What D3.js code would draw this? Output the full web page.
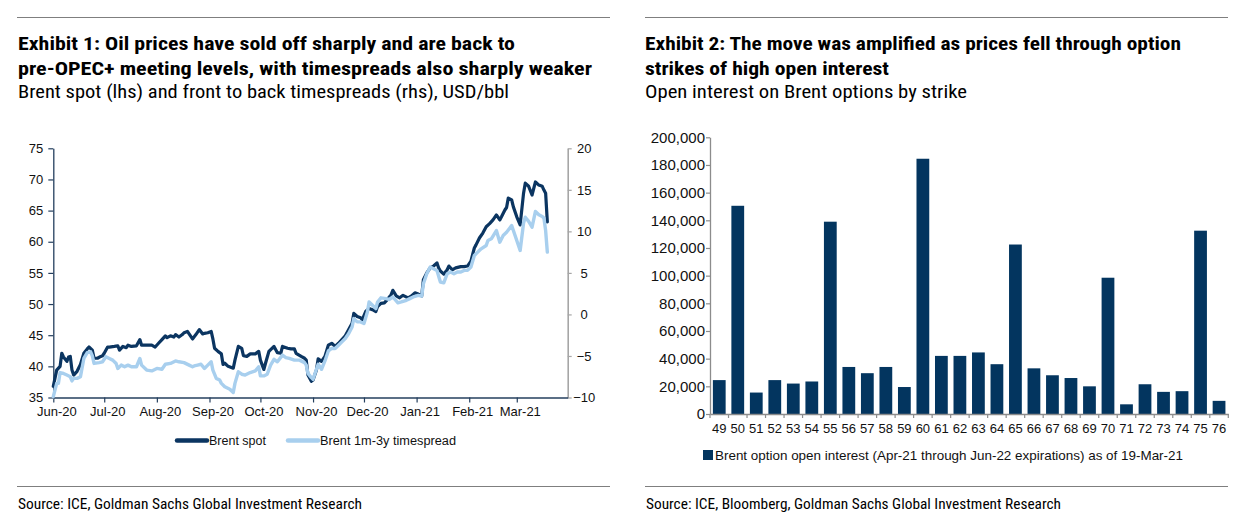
<!DOCTYPE html>
<html>
<head>
<meta charset="utf-8">
<script src="https://cdn.jsdelivr.net/npm/d3@7"></script>
<style>
  html, body { margin: 0; padding: 0; background: #fff; }
  svg { display: block; }
</style>
</head>
<body>
<svg id="chart" width="1257" height="530"></svg>
<script>
// ---------- DATA ----------
const spotDates = ["2020-06-01","2020-06-03","2020-06-05","2020-06-06","2020-06-07","2020-06-09","2020-06-10","2020-06-11","2020-06-12","2020-06-13","2020-06-15","2020-06-17","2020-06-19","2020-06-21","2020-06-22","2020-06-24","2020-06-25","2020-06-27","2020-06-29","2020-06-30",
"2020-07-01","2020-07-03","2020-07-04","2020-07-07","2020-07-09","2020-07-10","2020-07-12","2020-07-14","2020-07-15","2020-07-17","2020-07-20","2020-07-22","2020-07-23","2020-07-26","2020-07-29","2020-07-31",
"2020-08-02","2020-08-04","2020-08-06","2020-08-07","2020-08-09","2020-08-11","2020-08-12","2020-08-14","2020-08-16","2020-08-17","2020-08-19","2020-08-20","2020-08-22","2020-08-24","2020-08-26","2020-08-28","2020-08-29","2020-08-31",
"2020-09-02","2020-09-03","2020-09-04","2020-09-06","2020-09-08","2020-09-09","2020-09-10","2020-09-12","2020-09-15","2020-09-16","2020-09-18","2020-09-20","2020-09-21","2020-09-23","2020-09-25","2020-09-28","2020-09-30",
"2020-10-01","2020-10-03","2020-10-04","2020-10-06","2020-10-09","2020-10-11","2020-10-13","2020-10-14","2020-10-17","2020-10-19","2020-10-21","2020-10-22","2020-10-25","2020-10-27","2020-10-28","2020-10-29","2020-10-31",
"2020-11-01","2020-11-03","2020-11-04","2020-11-06","2020-11-08","2020-11-10","2020-11-12","2020-11-14","2020-11-16","2020-11-18","2020-11-20","2020-11-22","2020-11-24","2020-11-25","2020-11-27","2020-11-29","2020-11-30",
"2020-12-02","2020-12-04","2020-12-06","2020-12-08","2020-12-09","2020-12-11","2020-12-13","2020-12-15","2020-12-17","2020-12-18","2020-12-20","2020-12-22","2020-12-24","2020-12-27","2020-12-29","2020-12-31",
"2021-01-02","2021-01-04","2021-01-05","2021-01-07","2021-01-09","2021-01-11","2021-01-13","2021-01-14","2021-01-15","2021-01-17","2021-01-19","2021-01-20","2021-01-22","2021-01-24","2021-01-27","2021-01-29","2021-01-31",
"2021-02-02","2021-02-04","2021-02-05","2021-02-07","2021-02-09","2021-02-11","2021-02-13","2021-02-15","2021-02-17","2021-02-19","2021-02-20","2021-02-22","2021-02-23","2021-02-24","2021-02-26","2021-02-27",
"2021-03-01","2021-03-03","2021-03-05","2021-03-06","2021-03-08","2021-03-10","2021-03-12","2021-03-14","2021-03-16","2021-03-17","2021-03-18","2021-03-19"];
const spotValues = [36.8,39.4,40.0,42.1,41.5,40.8,41.5,41.6,39.4,38.6,39.2,40.3,42.1,42.8,43.1,42.6,41.3,41.3,41.6,41.7,
42.1,43.1,43.1,43.2,43.3,42.6,43.2,43.0,43.4,43.2,43.3,44.3,43.4,43.4,43.4,43.1,
43.7,44.3,44.9,44.6,44.9,44.7,45.1,44.7,45.1,45.4,45.6,45.2,44.4,45.1,45.9,45.2,45.3,45.4,
45.6,44.4,42.9,42.4,42.0,40.3,40.5,40.0,39.7,41.0,43.2,42.9,41.7,41.6,42.0,42.0,42.4,
41.0,39.5,40.5,42.4,43.2,42.2,42.1,43.2,42.9,42.8,42.8,42.1,41.6,41.3,41.0,38.6,37.6,
37.8,39.4,41.2,40.8,41.6,43.4,43.7,43.2,43.7,44.3,44.9,45.9,46.9,48.5,48.0,47.8,47.5,
48.8,49.3,49.1,48.8,49.6,50.1,50.2,50.8,51.5,52.2,51.3,51.0,51.4,51.0,51.3,51.8,
51.6,51.3,53.9,55.0,55.8,56.1,56.6,55.8,55.3,54.8,55.5,56.1,55.5,55.8,56.0,56.0,56.1,
56.9,59.0,59.5,60.6,61.4,62.4,62.9,63.5,64.3,63.5,64.0,65.1,65.5,67.0,66.7,65.6,
64.0,62.7,67.8,69.4,68.9,67.5,69.6,69.1,68.9,68.3,67.8,63.2];

const spreadDates = ["2020-06-01","2020-06-03","2020-06-04","2020-06-05","2020-06-07","2020-06-09","2020-06-11","2020-06-12","2020-06-13","2020-06-15","2020-06-17","2020-06-19","2020-06-21","2020-06-23","2020-06-24","2020-06-25","2020-06-28","2020-06-30",
"2020-07-02","2020-07-04","2020-07-06","2020-07-08","2020-07-09","2020-07-11","2020-07-13","2020-07-15","2020-07-17","2020-07-20","2020-07-22","2020-07-23","2020-07-26","2020-07-29",
"2020-08-01","2020-08-04","2020-08-06","2020-08-09","2020-08-12","2020-08-14","2020-08-17","2020-08-20","2020-08-22","2020-08-23","2020-08-25","2020-08-27","2020-08-29","2020-08-31",
"2020-09-02","2020-09-03","2020-09-05","2020-09-07","2020-09-08","2020-09-10","2020-09-13","2020-09-15","2020-09-16","2020-09-18","2020-09-20","2020-09-22","2020-09-25","2020-09-28","2020-09-30",
"2020-10-01","2020-10-03","2020-10-05","2020-10-07","2020-10-09","2020-10-11","2020-10-14","2020-10-16","2020-10-18","2020-10-21","2020-10-24","2020-10-27","2020-10-28","2020-10-29","2020-10-31",
"2020-11-01","2020-11-02","2020-11-04","2020-11-06","2020-11-08","2020-11-10","2020-11-12","2020-11-14","2020-11-16","2020-11-18","2020-11-20","2020-11-22","2020-11-24","2020-11-25","2020-11-27","2020-11-29",
"2020-12-01","2020-12-03","2020-12-04","2020-12-06","2020-12-08","2020-12-09","2020-12-11","2020-12-14","2020-12-16","2020-12-18","2020-12-21","2020-12-23","2020-12-26","2020-12-28","2020-12-30",
"2021-01-02","2021-01-04","2021-01-05","2021-01-07","2021-01-09","2021-01-11","2021-01-13","2021-01-15","2021-01-17","2021-01-19","2021-01-21","2021-01-23","2021-01-25","2021-01-27","2021-01-29","2021-01-31",
"2021-02-02","2021-02-04","2021-02-06","2021-02-08","2021-02-11","2021-02-12","2021-02-14","2021-02-17","2021-02-19","2021-02-21","2021-02-23","2021-02-26","2021-02-27",
"2021-03-01","2021-03-03","2021-03-05","2021-03-06","2021-03-08","2021-03-10","2021-03-12","2021-03-14","2021-03-16","2021-03-17","2021-03-18","2021-03-19"];
const spreadValues = [-9.9,-8.3,-8.3,-7.0,-7.1,-7.3,-7.5,-8.0,-7.7,-7.7,-7.5,-5.3,-4.6,-4.5,-5.0,-5.9,-5.8,-5.7,
-5.1,-5.3,-5.5,-5.9,-6.5,-6.1,-6.3,-6.1,-6.3,-6.3,-5.3,-6.1,-6.7,-6.8,
-6.5,-6.6,-6.0,-5.9,-5.6,-5.7,-5.8,-6.1,-6.3,-6.2,-6.1,-6.0,-6.5,-6.1,
-5.7,-6.7,-7.7,-7.9,-8.3,-8.7,-9.0,-9.4,-8.3,-6.9,-7.2,-7.3,-7.0,-6.8,-6.3,
-7.4,-7.4,-7.2,-6.1,-5.4,-5.7,-4.9,-5.2,-5.3,-5.5,-5.5,-5.8,-6.1,-7.1,-7.6,
-7.8,-7.2,-6.0,-6.6,-5.6,-4.4,-4.1,-4.1,-3.7,-3.3,-2.9,-2.3,-1.5,-0.5,-0.9,-0.9,
-1.1,0.3,1.5,1.1,0.7,1.5,2.0,1.9,1.8,2.1,1.4,1.5,1.7,1.9,2.1,
2.3,2.2,3.7,4.9,5.7,5.5,5.3,3.9,3.8,4.9,5.1,4.9,5.1,5.1,5.3,5.3,
5.7,7.1,7.5,7.9,8.3,8.9,9.1,10.1,8.7,9.5,9.9,10.7,10.1,
8.9,7.7,11.0,11.7,11.2,10.5,12.4,12.0,11.8,11.6,10.1,7.5];

const monthTicks = ["2020-06-01","2020-07-01","2020-08-01","2020-09-01","2020-10-01","2020-11-01","2020-12-01","2021-01-01","2021-02-01","2021-03-01"];
const leftTicks = [35,40,45,50,55,60,65,70,75];
const rightTicks = [-10,-5,0,5,10,15,20];

const strikes = ["49","50","51","52","53","54","55","56","57","58","59","60","61","62","63","64","65","66","67","68","69","70","71","72","73","74","75","76"];
const openInterest = [24500,150500,15500,24500,22000,23500,139000,34000,29500,34000,19500,184500,42000,42000,44500,36000,122500,33000,28000,26000,20000,98500,7000,21500,16000,16500,132500,9500];
const barTicks = [0,20000,40000,60000,80000,100000,120000,140000,160000,180000,200000];

const seriesNames = ["Brent spot","Brent 1m-3y timespread"];
const barSeriesName = "Brent option open interest (Apr-21 through Jun-22 expirations) as of 19-Mar-21";

// ---------- STYLE ----------
const NAVY = "#0b3561";
const LIGHT = "#a8cfee";
const BAR = "#03355f";
const narrow = "'Liberation Sans Narrow','Roboto Condensed','DejaVu Sans Condensed','Liberation Sans',Arial,sans-serif";
const arial = "'Liberation Sans',Arial,sans-serif";

const svg = d3.select("#chart");
const parse = d3.timeParse("%Y-%m-%d");

// ---------- HEADERS ----------
function rule(x1, x2, y) {
  svg.append("line").attr("x1", x1).attr("x2", x2).attr("y1", y).attr("y2", y)
    .attr("stroke", "#7f7f7f").attr("stroke-width", 1.2);
}
function txt(s, x, y, size, weight, len) {
  const t = svg.append("text").attr("x", x).attr("y", y).text(s)
    .style("font-family", narrow).style("font-size", size + "px")
    .style("font-weight", weight).attr("fill", "#000");
  if (len) t.attr("textLength", len).attr("lengthAdjust", "spacingAndGlyphs");
  return t;
}
rule(17, 610, 17.5);
rule(645, 1228, 17.5);
rule(17, 610, 486.5);
rule(645, 1228, 486.5);

txt("Exhibit 1: Oil prices have sold off sharply and are back to", 18, 50, 18.5, "bold", 497);
txt("pre-OPEC+ meeting levels, with timespreads also sharply weaker", 18, 75, 18.5, "bold", 574);
txt("Brent spot (lhs) and front to back timespreads (rhs), USD/bbl", 18, 98, 17.5, "normal", 491);
txt("Exhibit 2: The move was amplified as prices fell through option", 645, 50, 18.5, "bold", 536);
txt("strikes of high open interest", 645, 75, 18.5, "bold", 244);
txt("Open interest on Brent options by strike", 645, 98, 17.5, "normal", 322);
txt("Source: ICE, Goldman Sachs Global Investment Research", 18, 509, 15.5, "normal", 344);
txt("Source: ICE, Bloomberg, Goldman Sachs Global Investment Research", 646, 509, 15.5, "normal", 415);

// ---------- LEFT CHART ----------
const xL = d3.scaleTime().domain([parse("2020-06-01"), parse("2021-03-31")]).range([53.3, 567.7]);
const yL = d3.scaleLinear().domain([35, 75]).range([397.5, 148.3]);
const yR = d3.scaleLinear().domain([-10, 20]).range([397.5, 148.3]);

const gl = svg.append("g");

const axL = gl.append("g").attr("transform", "translate(53.3,0)")
  .call(d3.axisLeft(yL).tickValues(leftTicks).tickSize(5).tickPadding(5).tickSizeOuter(0));
const axR = gl.append("g").attr("transform", "translate(567.7,0)")
  .call(d3.axisRight(yR).tickValues(rightTicks).tickSize(4).tickPadding(5).tickSizeOuter(0));
axR.selectAll("text").attr("x", 16.5).attr("text-anchor", "middle");
const axX = gl.append("g").attr("transform", "translate(0,397.5)")
  .call(d3.axisBottom(xL).tickValues(monthTicks.map(parse)).tickFormat(d3.timeFormat("%b-%y"))
    .tickSize(5).tickPadding(4).tickSizeOuter(0));
axX.selectAll("text").attr("dx", 3);

[axL, axX].forEach(a => {
  a.select(".domain").attr("stroke", "#243f5e").attr("stroke-width", 1.3);
  a.selectAll(".tick line").attr("stroke", "#243f5e").attr("stroke-width", 1.2);
});
axR.select(".domain").attr("stroke", "#a6a6a6").attr("stroke-width", 1.6);
axR.selectAll(".tick line").attr("stroke", "#a6a6a6").attr("stroke-width", 1.2);
[axL, axR, axX].forEach(a => a.selectAll("text")
  .style("font-family", arial).style("font-size", "13px").attr("fill", "#111"));

const spot = spotDates.map((d, i) => ({ d: parse(d), v: spotValues[i] }));
const spread = spreadDates.map((d, i) => ({ d: parse(d), v: spreadValues[i] }));

gl.append("path").datum(spot)
  .attr("d", d3.line().x(p => xL(p.d)).y(p => yL(p.v)))
  .attr("fill", "none").attr("stroke", NAVY).attr("stroke-width", 3.2)
  .attr("stroke-linejoin", "round").attr("stroke-linecap", "round");
gl.append("path").datum(spread)
  .attr("d", d3.line().x(p => xL(p.d)).y(p => yR(p.v)))
  .attr("fill", "none").attr("stroke", LIGHT).attr("stroke-width", 3.4)
  .attr("stroke-linejoin", "round").attr("stroke-linecap", "round");

// left legend
const legL = gl.append("g");
const legItems = [
  { name: seriesNames[0], color: NAVY, x: 177, len: 57 },
  { name: seriesNames[1], color: LIGHT, x: 288, len: 136 }
];
legItems.forEach(it => {
  legL.append("line").attr("x1", it.x).attr("x2", it.x + 30).attr("y1", 440.5).attr("y2", 440.5)
    .attr("stroke", it.color).attr("stroke-width", 4.5).attr("stroke-linecap", "round");
  legL.append("text").attr("x", it.x + 32).attr("y", 444.8).text(it.name)
    .attr("textLength", it.len).attr("lengthAdjust", "spacingAndGlyphs")
    .style("font-family", arial).style("font-size", "12.5px").attr("fill", "#111");
});

// ---------- RIGHT CHART ----------
const xB = d3.scaleBand().domain(strikes).range([710, 1228.3]).paddingInner(0.31).paddingOuter(0.155);
const yB = d3.scaleLinear().domain([0, 200000]).range([414, 137.3]);
const gr = svg.append("g");

gr.selectAll("rect.bar").data(strikes).join("rect").attr("class", "bar")
  .attr("x", s => xB(s)).attr("width", xB.bandwidth())
  .attr("y", (s, i) => yB(openInterest[i]))
  .attr("height", (s, i) => yB(0) - yB(openInterest[i]))
  .attr("fill", BAR);

const axBY = gr.append("g").attr("transform", "translate(710,0)")
  .call(d3.axisLeft(yB).tickValues(barTicks).tickFormat(d3.format(",")).tickSize(4).tickPadding(1).tickSizeOuter(0));
const axBX = gr.append("g").attr("transform", "translate(0,414)")
  .call(d3.axisBottom(xB).tickSize(0).tickPadding(9.5).tickSizeOuter(0));
// boundary ticks between strikes
const step = xB.step();
const x0 = xB.range()[0];
const bounds = d3.range(strikes.length + 1).map(i => x0 + i * step);
axBX.selectAll("line.bt").data(bounds).join("line").attr("class", "bt")
  .attr("x1", b => b).attr("x2", b => b).attr("y1", 0).attr("y2", 4)
  .attr("stroke", "#8c8c8c").attr("stroke-width", 1.2);
[axBY, axBX].forEach(a => {
  a.select(".domain").attr("stroke", "#8c8c8c").attr("stroke-width", 1.3);
  a.selectAll(".tick line").attr("stroke", "#8c8c8c").attr("stroke-width", 1.2);
  a.selectAll("text").style("font-family", arial).attr("fill", "#111");
});
axBY.selectAll("text").style("font-size", "15px");
axBX.selectAll("text").style("font-size", "13px");

// right legend
gr.append("rect").attr("x", 703).attr("y", 450).attr("width", 10).attr("height", 10).attr("fill", BAR);
gr.append("text").attr("x", 715).attr("y", 459.5).text(barSeriesName)
  .attr("textLength", 468).attr("lengthAdjust", "spacingAndGlyphs")
  .style("font-family", arial).style("font-size", "13px").attr("fill", "#111");
</script>
</body>
</html>
